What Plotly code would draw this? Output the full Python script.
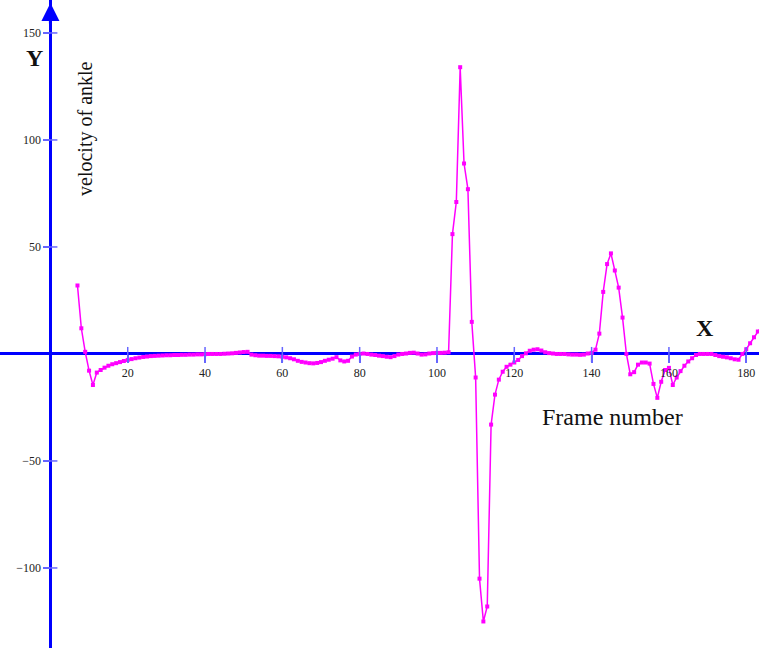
import plotly.graph_objects as go

frames = list(range(7, 185))
velocity = [
    32, 12, 1, -7.8, -14.5, -8.7, -7.5, -6.4, -5.5, -4.8,            # 7-16
    -4.3, -3.8, -3.3, -2.8, -2.4, -2.0, -1.7, -1.4, -1.2, -1.0,      # 17-26
    -0.9, -0.8, -0.7, -0.6, -0.6, -0.5, -0.5, -0.4, -0.4, -0.3,      # 27-36
    -0.3, -0.2, -0.2, -0.1, 0, 0, 0, 0, 0.1, 0.2,                    # 37-46
    0.3, 0.5, 0.7, 0.9, 1.0, -0.3, -0.6, -0.8, -0.8, -0.9,           # 47-56
    -0.9, -1.0, -1.1, -1.3, -1.6, -2.0, -2.5, -3.2, -3.7, -4.0,      # 57-66
    -4.3, -4.4, -4.2, -3.8, -3.2, -2.7, -2.2, -1.5, -3.0, -3.5,      # 67-76
    -3.2, -1.2, -0.3, 0, 0.2, 0, -0.3, -0.5, -0.8, -1.0,             # 77-86
    -1.3, -1.5, -1.0, -0.3, 0, 0.2, 0.5, 0.6, 0.2, -0.3,             # 87-96
    -0.2, 0.2, 0.4, 0.5, 0.5, 0.6, 0.8, 56, 71, 134,                 # 97-106
    89, 77, 15, -11, -105, -125, -118, -33, -19, -12,                # 107-116
    -8.3, -6, -5, -4, -2.8, -1, 0.3, 1.5, 2.0, 2.2,                  # 117-126
    1.6, 0.8, 0.4, 0.2, 0, 0, 0, -0.2, -0.3, -0.3,                   # 127-136
    -0.4, -0.3, 0.2, 0.5, 2, 9.5, 29, 42, 47, 39,                    # 137-146
    31, 17, 0, -9.5, -8.5, -5, -4, -4, -4.5, -14,                    # 147-156
    -20.5, -13, -7.5, -6.5, -14.5, -11, -8, -5.5, -3.5, -2,          # 157-166
    -0.5, 0, 0, 0, 0, -0.5, -1, -1.3, -1.6, -2,                      # 167-176
    -2.5, -2.7, 0, 2.2, 5, 7.8, 10.5, 13,                            # 177-184
]

x_ticks = [20, 40, 60, 80, 100, 120, 140, 160, 180]
y_ticks = [-100, -50, 50, 100, 150]

X_RANGE = [-13.04, 183.3]
Y_RANGE = [-137.4, 165.4]

AXIS_BLUE = "#0000ff"
TICK_BLUE = "#6666ff"
SERIF = "Liberation Serif, Times New Roman, serif"

fig = go.Figure()
fig.add_trace(go.Scatter(
    x=frames, y=velocity, mode="lines+markers",
    line=dict(color="#ff00ff", width=1.5),
    marker=dict(color="#ff00ff", size=4, symbol="square"),
    showlegend=False,
))

shapes = []
for t in x_ticks:
    shapes.append(dict(type="line", xref="x", yref="y", x0=t, x1=t,
                       ysizemode="pixel", yanchor=0, y0=-8, y1=7,
                       line=dict(color=TICK_BLUE, width=1.5)))
for t in y_ticks:
    shapes.append(dict(type="line", xref="x", yref="y", y0=t, y1=t,
                       xsizemode="pixel", xanchor=0, x0=-7, x1=7,
                       line=dict(color=TICK_BLUE, width=1.5)))

annotations = [
    # y-axis arrow
    dict(x=0, y=164, xref="x", yref="y", ax=0, ay=22, axref="pixel", ayref="pixel",
         showarrow=True, arrowhead=2, arrowsize=1.2, arrowwidth=3, arrowcolor=AXIS_BLUE, text=""),
    dict(x=-4.2, y=138.3, xref="x", yref="y", text="<b>Y</b>", showarrow=False,
         font=dict(family=SERIF, size=24, color="#111")),
    dict(x=169.3, y=12.1, xref="x", yref="y", text="<b>X</b>", showarrow=False,
         font=dict(family=SERIF, size=24, color="#111")),
    dict(x=145.5, y=-29.4, xref="x", yref="y", text="Frame number", showarrow=False,
         font=dict(family=SERIF, size=24, color="#111")),
    dict(x=9.2, y=105.6, xref="x", yref="y", text="velocity of ankle", showarrow=False,
         textangle=-90, font=dict(family=SERIF, size=20, color="#111")),
]

fig.update_layout(
    width=759, height=648,
    margin=dict(l=0, r=0, t=0, b=0),
    paper_bgcolor="white", plot_bgcolor="white",
    shapes=shapes, annotations=annotations,
    xaxis=dict(range=X_RANGE, showgrid=False, zeroline=True, zerolinecolor=AXIS_BLUE,
               zerolinewidth=3, tickvals=x_ticks, ticks="outside", ticklen=8,
               tickcolor=TICK_BLUE, tickwidth=1.5,
               anchor="free", position=(0 - Y_RANGE[0]) / (Y_RANGE[1] - Y_RANGE[0]),
               showline=False, tickfont=dict(family=SERIF, size=12, color="#222")),
    yaxis=dict(range=Y_RANGE, showgrid=False, zeroline=True, zerolinecolor=AXIS_BLUE,
               zerolinewidth=3, tickvals=y_ticks, ticks="outside", ticklen=7,
               tickcolor=TICK_BLUE, tickwidth=1.5,
               anchor="free", position=(0 - X_RANGE[0]) / (X_RANGE[1] - X_RANGE[0]),
               showline=False, tickfont=dict(family=SERIF, size=12, color="#222")),
)

fig.write_html("out.html", config={"displayModeBar": False},
               post_script="document.body.style.margin='0px';document.body.style.overflow='hidden';")
